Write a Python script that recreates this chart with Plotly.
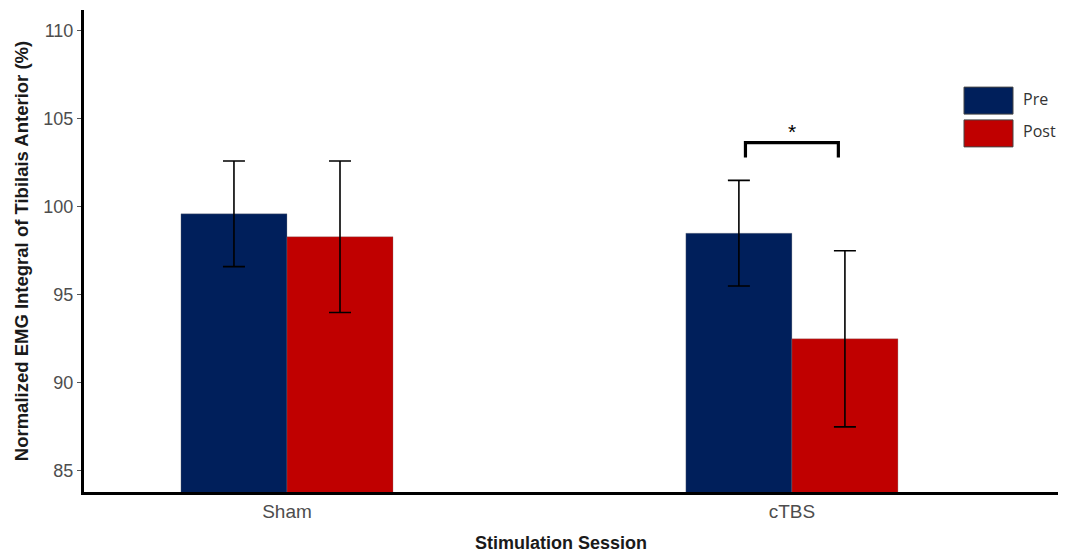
import plotly.graph_objects as go

categories = ["Sham", "cTBS"]
pre_values = [99.6, 98.5]
pre_errors = [3.0, 3.0]
post_values = [98.3, 92.5]
post_errors = [4.3, 5.0]
series_names = ["Pre", "Post"]
colors = ["#001f5b", "#c00000"]
y_ticks = [85, 90, 95, 100, 105, 110]

bargap = 0.58
bar_w = (1 - bargap) / 2

fig = go.Figure()
for name, vals, errs, col in zip(series_names, [pre_values, post_values],
                                 [pre_errors, post_errors], colors):
    fig.add_trace(go.Bar(
        x=categories, y=vals, name=name,
        marker=dict(color=col, line=dict(color="rgba(120,120,120,0.5)", width=0.6)),
        error_y=dict(type="data", array=errs, visible=True, color="black",
                     thickness=1.6, width=11),
        showlegend=False,
    ))

# significance bracket over cTBS
ci = categories.index("cTBS")
bx0 = ci - bar_w / 2 + 0.013
bx1 = ci + bar_w / 2 - 0.013
by_top = 103.65
by_bot = 102.8
fig.add_shape(type="path",
              path=f"M {bx0},{by_bot} L {bx0},{by_top} L {bx1},{by_top} L {bx1},{by_bot}",
              xref="x", yref="y", line=dict(color="black", width=3.2))
fig.add_annotation(x=ci, y=by_top, xref="x", yref="y", text="*", showarrow=False,
                   yanchor="bottom", yshift=-2, font=dict(size=21, color="black",
                                                          family="Liberation Sans"))

# legend drawn manually
leg_x0, leg_x1 = 0.9035, 0.9538
leg_rows = [(0.784, 0.840), (0.716, 0.772)]
for (y0, y1), name, col in zip(leg_rows, series_names, colors):
    fig.add_shape(type="rect", xref="paper", yref="paper", x0=leg_x0, x1=leg_x1,
                  y0=y0, y1=y1, fillcolor=col, line=dict(color="#444", width=1))
    fig.add_annotation(xref="paper", yref="paper", x=0.962, y=(y0 + y1) / 2 + 0.004,
                       text=name, showarrow=False, xanchor="left", yanchor="middle",
                       font=dict(size=16, color="#333", family="Open Sans"))

# x-axis title
fig.add_annotation(xref="paper", yref="paper", x=0.49, y=-0.106,
                   text="<b>Stimulation Session</b>", showarrow=False,
                   xanchor="center", yanchor="middle",
                   font=dict(size=18, color="#1a1a1a", family="Liberation Sans"))

# page body has an 8px default margin, so the figure is sized to fit inside it
fig.update_layout(
    width=1059, height=547,
    margin=dict(l=76, r=9, t=2, b=63),
    plot_bgcolor="white", paper_bgcolor="white",
    barmode="group", bargap=bargap, bargroupgap=0,
    font=dict(family="Liberation Sans", size=18, color="#4d4d4d"),
    xaxis=dict(
        range=[-0.402, 1.527], showline=True, linecolor="black", linewidth=3,
        ticks="", showgrid=False, zeroline=False, automargin=False,
        tickfont=dict(size=19, color="#4d4d4d"),
    ),
    yaxis=dict(
        range=[83.8, 111.18], showline=True, linecolor="black", linewidth=3,
        tickvals=y_ticks, ticks="outside", ticklen=4, tickcolor="#555", tickwidth=1,
        showgrid=False, zeroline=False, automargin=False,
        tickfont=dict(size=18, color="#4d4d4d"),
        title=dict(text="<b>Normalized EMG Integral of Tibilais Anterior (%)</b>",
                   standoff=10, font=dict(size=18.5, color="#1a1a1a")),
    ),
)

fig.write_html("out.html")
